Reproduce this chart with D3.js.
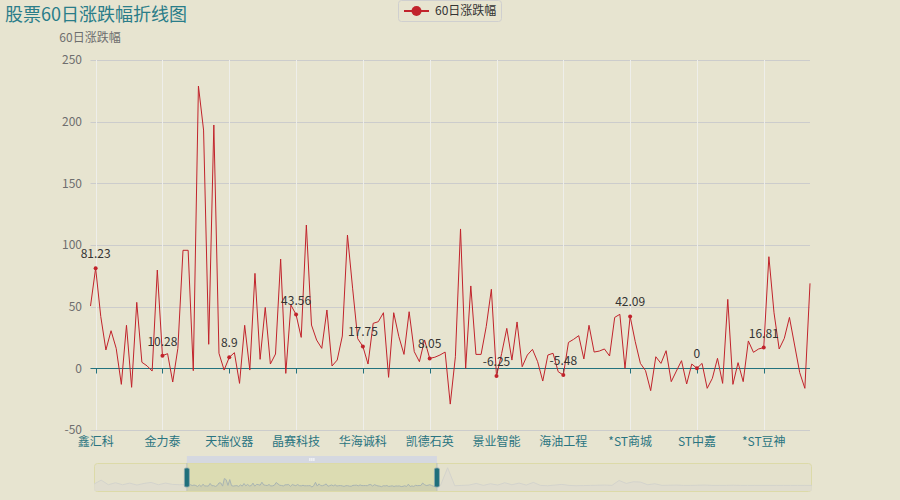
<!DOCTYPE html>
<html><head><meta charset="utf-8">
<script src="https://cdn.jsdelivr.net/npm/d3@7/dist/d3.min.js"></script>
<style>
html,body{margin:0;padding:0;background:#e7e4d0;}
svg{display:block;font-family:"Noto Sans CJK SC","Noto Sans",sans-serif;}
</style></head><body>
<svg id="c" width="900" height="500"></svg>
<script>
// ---- data (visible window of the series, 141 points) ----
const values = [50.5,81.23,42,14.9,30.5,16.2,-13,34.9,-15.4,53.5,4.9,2,-2.2,79.7,10.28,11.9,-11.1,16.2,95.7,95.7,
-1.9,228.9,193.2,19.5,197.3,12.2,-1.4,8.9,12.7,-12.2,34.9,-1.4,77,7.3,49.4,3.5,11.6,88.6,-4.1,51.3,
43.56,25.1,116.2,35.1,22.9,16.2,47.3,1.9,6.7,26.2,108.1,65,24,17.75,3.5,36.5,37.8,45.1,-7.3,45.1,
25.7,11.3,45.9,13.5,5.4,23,8.05,9,10.8,13.2,-29,9.4,113,0,66.8,11.3,11.3,33.8,64.1,-6.25,
12,32.4,6.7,37.6,1.3,10.8,15.4,5.4,-10.3,10.8,12.2,-2.7,-5.48,21,23.5,26.5,7.6,34.9,13.2,14,
15.7,10,41.3,43.8,0,42.09,21.6,4,-1.9,-18.1,9.4,4,14.3,-10.8,-2.2,6.2,-12.7,3.5,0,4,
-16.2,-8.1,8.1,-12.2,55.9,-13,4.6,-10.8,22.2,13,15.7,16.81,90.5,45,15.7,24.3,41.3,18.9,-3.5,-16.2,68.9];
const tickLabels = ["鑫汇科","金力泰","天瑞仪器","晶赛科技","华海诚科","凯德石英","景业智能","海油工程","*ST商城","ST中嘉","*ST豆神"];
const tickStart = 1, tickStep = 13;
const yTicks = [-50,0,50,100,150,200,250];
const seriesName = "60日涨跌幅";
const titleText = "股票60日涨跌幅折线图";
// slider shadow: coarse readings of the rest of the series (outside the window)
const shadowBefore = [60,180,40,100,40,90,30,80,110,40,90,50,40];   // global idx 0..48 step 4
const shadowAfter = [20,555,10,20,30,80,20,70,30,100,40,90,30,110,20,10,30,50,20,10,15,20,25,30,20,170,80,130,120,40,70,20,25,30,20,20,25,30,20,20,20,25,20,20,20,20,20,20,20,20,20,20,20]; // global idx 194.. step 4

(function () {
const svg = d3.select("#c");
const pLeft = 90.5, pRight = 810, pTop = 60, pBottom = 430;
const x = d3.scaleLinear().domain([0, values.length - 1]).range([pLeft, pRight]);
const y = d3.scaleLinear().domain([-50, 250]).range([pBottom, pTop]);

// horizontal grid
svg.append("g").selectAll("line").data(yTicks).join("line")
  .attr("x1", pLeft).attr("x2", pRight)
  .attr("y1", d => Math.round(y(d)) + 0.5).attr("y2", d => Math.round(y(d)) + 0.5)
  .attr("stroke", "#ccc").attr("stroke-width", 1);

// vertical split lines at labelled categories
const tickIdx = tickLabels.map((_, i) => tickStart + i * tickStep);
svg.append("g").selectAll("line").data(tickIdx).join("line")
  .attr("x1", d => Math.round(x(d)) + 0.5).attr("x2", d => Math.round(x(d)) + 0.5)
  .attr("y1", pTop).attr("y2", pBottom)
  .attr("stroke", "#eeeeea").attr("stroke-width", 1);

// y labels
svg.append("g").selectAll("text").data(yTicks).join("text")
  .attr("x", 82).attr("y", d => y(d)).attr("dy", "0.35em")
  .attr("text-anchor", "end").attr("font-size", 12).attr("fill", "#6e6e6e")
  .text(d => d);

// y axis name
svg.append("text").attr("x", 90).attr("y", 42).attr("text-anchor", "middle")
  .attr("font-size", 12).attr("fill", "#6e6e6e").text(seriesName);

// zero axis line + ticks
const y0 = Math.round(y(0)) + 0.5;
const axisColor = "#23727e";
svg.append("line").attr("x1", pLeft).attr("x2", pRight).attr("y1", y0).attr("y2", y0)
  .attr("stroke", axisColor).attr("stroke-width", 1);
svg.append("g").selectAll("line").data(tickIdx).join("line")
  .attr("x1", d => Math.round(x(d)) + 0.5).attr("x2", d => Math.round(x(d)) + 0.5)
  .attr("y1", y0).attr("y2", y0 + 5).attr("stroke", axisColor);

// x labels
svg.append("g").selectAll("text").data(tickIdx).join("text")
  .attr("x", d => x(d)).attr("y", 446).attr("text-anchor", "middle")
  .attr("font-size", 12).attr("fill", "#2a7480")
  .text((d, i) => tickLabels[i]);

// line
const red = "#c1232b";
svg.append("path").datum(values)
  .attr("d", d3.line().x((d, i) => x(i)).y(d => y(d)))
  .attr("fill", "none").attr("stroke", red).attr("stroke-width", 1);

// labelled points
svg.append("g").selectAll("circle").data(tickIdx).join("circle")
  .attr("cx", d => x(d)).attr("cy", d => y(values[d])).attr("r", 2).attr("fill", red);
svg.append("g").selectAll("text").data(tickIdx).join("text")
  .attr("x", d => x(d)).attr("y", d => y(values[d]) - 10).attr("text-anchor", "middle")
  .attr("font-size", 12).attr("fill", "#333").text(d => values[d]);

// title
svg.append("text").attr("x", 5).attr("y", 21).attr("font-size", 18).attr("fill", "#2a7d89").text(titleText);

// legend
svg.append("rect").attr("x", 398.5).attr("y", 0.5).attr("width", 103).attr("height", 21).attr("rx", 3)
  .attr("fill", "none").attr("stroke", "#cfcfcf");
svg.append("line").attr("x1", 404).attr("x2", 429).attr("y1", 11).attr("y2", 11).attr("stroke", red).attr("stroke-width", 2);
svg.append("circle").attr("cx", 416.5).attr("cy", 11).attr("r", 5).attr("fill", red);
svg.append("text").attr("x", 435).attr("y", 11).attr("dy", "0.35em").attr("font-size", 12).attr("fill", "#333").text(seriesName);

// ---- data zoom slider ----
const sL = 94, sR = 812, sT = 463, sB = 491;
const startG = 52, endG = startG + values.length - 1, totalG = 402;
const gx = d3.scaleLinear().domain([0, totalG]).range([sL, sR]);
const sy = d3.scaleLinear().domain([-150, 700]).range([sB, sT]);
const shadowPts = [];
shadowBefore.forEach((v, i) => shadowPts.push([i * 4, v]));
values.forEach((v, i) => shadowPts.push([startG + i, v]));
shadowAfter.forEach((v, i) => { const g = endG + 2 + i * 4; if (g <= totalG) shadowPts.push([g, v]); });
shadowPts.push([totalG, 20]);

svg.append("rect").attr("x", sL + 0.5).attr("y", sT + 0.5).attr("width", sR - sL - 1).attr("height", sB - sT)
  .attr("rx", 3).attr("fill", "#e4e1cc").attr("stroke", "#dcdaa8");
const area = d3.area().x(d => gx(d[0])).y0(sB).y1(d => sy(d[1]));
const sline = d3.line().x(d => gx(d[0])).y(d => sy(d[1]));
const xs = gx(startG), xe = gx(endG);
svg.append("clipPath").attr("id", "outClip").append("path")
  .attr("d", `M${sL},${sT}H${xs}V${sB}H${sL}Z M${xe},${sT}H${sR}V${sB}H${xe}Z`);
svg.append("clipPath").attr("id", "inClip").append("rect")
  .attr("x", xs).attr("y", sT).attr("width", xe - xs).attr("height", sB - sT);
const gout = svg.append("g").attr("clip-path", "url(#outClip)");
gout.append("path").datum(shadowPts).attr("d", area).attr("fill", "#dedcd0").attr("opacity", 0.8);
gout.append("path").datum(shadowPts).attr("d", sline).attr("fill", "none").attr("stroke", "#d3d3cc");
// selected range
svg.append("rect").attr("x", xs).attr("y", sT + 1).attr("width", xe - xs).attr("height", sB - sT - 1).attr("fill", "#dcdcb2");
const gin = svg.append("g").attr("clip-path", "url(#inClip)");
gin.append("path").datum(shadowPts).attr("d", area).attr("fill", "#cfd0b0");
gin.append("path").datum(shadowPts).attr("d", sline).attr("fill", "none").attr("stroke", "#a8b4b2");
// top bar
svg.append("rect").attr("x", xs).attr("y", 456).attr("width", xe - xs).attr("height", 7).attr("fill", "#d5d8e0");
[-2, 0, 2].forEach(o => svg.append("rect").attr("x", (xs + xe) / 2 + o - 0.5).attr("y", 458).attr("width", 1).attr("height", 3).attr("fill", "#fff"));
// handles
[xs, xe].forEach(hx => {
  svg.append("line").attr("x1", hx).attr("x2", hx).attr("y1", sT).attr("y2", sB).attr("stroke", "#b8c0bf");
  svg.append("rect").attr("x", hx - 2.5).attr("y", 468).attr("width", 5).attr("height", 19).attr("rx", 1.5)
    .attr("fill", "#1f6f7b").attr("stroke", "#8fa8ad").attr("stroke-width", 0.8);
});
})();
</script>
</body></html>
